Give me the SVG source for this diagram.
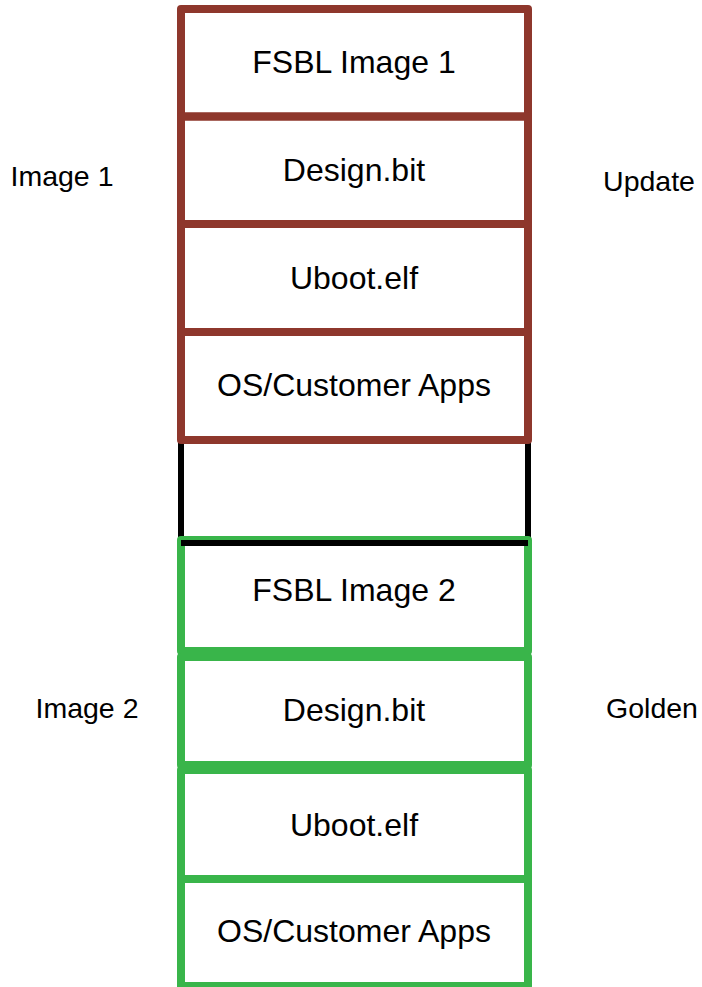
<svg xmlns="http://www.w3.org/2000/svg" width="702" height="987" viewBox="0 0 702 987">
<style>
  .red{fill:none;stroke:#8E372C;stroke-width:8;stroke-linejoin:round}
  .grn{fill:none;stroke:#39B54A;stroke-width:8;stroke-linejoin:round}
  .blk{fill:none;stroke:#000;stroke-width:6;stroke-linejoin:round}
  .t{font-family:"Liberation Sans",Arial,sans-serif;font-size:32px;fill:#000;text-anchor:middle}
  .l{font-family:"Liberation Sans",Arial,sans-serif;font-size:28.5px;fill:#000;text-anchor:middle}
</style>
<rect width="702" height="987" fill="#fff"/>
<g id="gap">
  <path class="blk" d="M181 440 V543 H528 V440"/>
</g>
<g id="image2">
  <g id="fsbl2"><rect class="grn" x="181" y="540" width="347" height="111"/><text class="t" x="354" y="601">FSBL Image 2</text></g>
  <g id="design2"><rect class="grn" x="181" y="657" width="347" height="108"/><text class="t" x="354" y="721">Design.bit</text></g>
  <g id="uboot2"><rect class="grn" x="181" y="770" width="347" height="109"/><text class="t" x="354" y="836">Uboot.elf</text></g>
  <g id="os2"><rect class="grn" x="181" y="879" width="347" height="107"/><text class="t" x="354" y="942">OS/Customer Apps</text></g>
  <path class="blk" d="M181 543 H528"/>
</g>
<g id="image1">
  <g id="fsbl1"><rect class="red" x="181" y="9" width="347" height="107.5"/><text class="t" x="354" y="73">FSBL Image 1</text></g>
  <g id="design1"><rect class="red" x="181" y="116.5" width="347" height="107.5"/><text class="t" x="354" y="181">Design.bit</text></g>
  <g id="uboot1"><rect class="red" x="181" y="224" width="347" height="108"/><text class="t" x="354" y="289">Uboot.elf</text></g>
  <g id="os1"><rect class="red" x="181" y="332" width="347" height="108"/><text class="t" x="354" y="396">OS/Customer Apps</text></g>
</g>
<g id="labels">
  <text class="l" x="62" y="186">Image 1</text>
  <text class="l" x="649" y="191">Update</text>
  <text class="l" x="87" y="718">Image 2</text>
  <text class="l" x="652" y="718">Golden</text>
</g>
<g id="connectors"></g>
</svg>
